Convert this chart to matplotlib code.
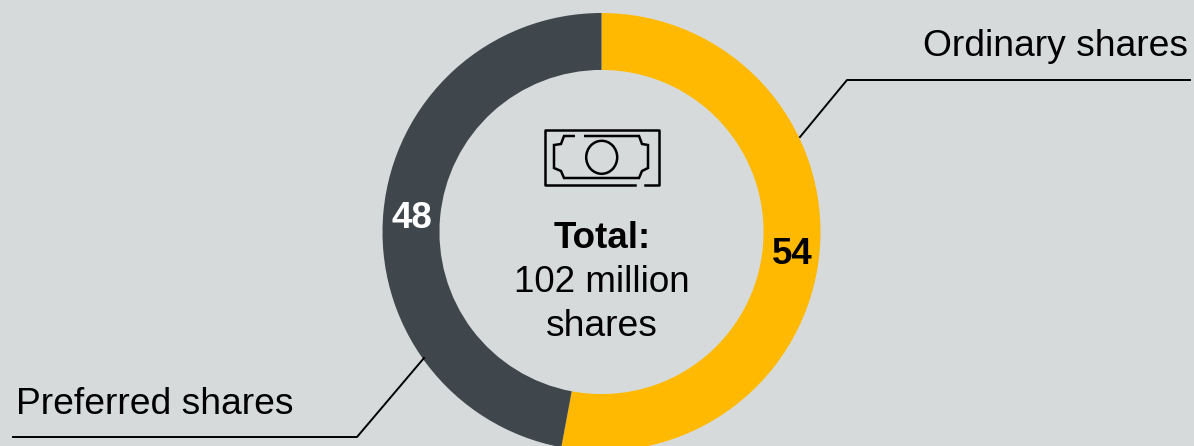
from matplotlib import pyplot as plt
from matplotlib.patches import Ellipse, PathPatch
from matplotlib.path import Path

labels = ['Ordinary shares', 'Preferred shares']
values = [54, 48]
colors = ['#FFB900', '#3F474C']
bg = '#D6DADB'
W, H = 1194, 446
FS = 26.8
FS_C = 26.5

plt.rcParams['font.family'] = ['Liberation Sans', 'DejaVu Sans']

fig = plt.figure(figsize=(W / 100, H / 100), dpi=100, facecolor=bg)
ax = fig.add_axes([0, 0, 1, 1])
ax.set_xlim(0, W)
ax.set_ylim(H, 0)
ax.axis('off')

# pie lives in its own axes so the wedges come from the values
cx, cy, r = 601.5, 232, 219
ax_pie = fig.add_axes([(cx - r) / W, 1 - (cy + r) / H, 2 * r / W, 2 * r / H])
ax_pie.pie(values, colors=colors, startangle=90, counterclock=False,
           radius=1, wedgeprops=dict(width=0.26, lw=0), frame=False)
ax_pie.set_xlim(-1, 1)
ax_pie.set_ylim(-1, 1)
ax_pie.set_zorder(0)
ax.set_zorder(1)
ax.patch.set_alpha(0)

# leader lines
ax.plot([1190, 847, 800], [80, 80, 137], c='k', lw=1.4)
ax.plot([13, 357, 424], [437, 437, 358], c='k', lw=1.4)
ax.text(923, 47, labels[0], fontsize=FS, va='center', ha='left')
ax.text(16, 405, labels[1], fontsize=FS, va='center', ha='left')

ax.text(792, 255, str(values[0]), fontsize=FS_C, weight='bold', ha='center', va='center', color='k')
ax.text(411.5, 219, str(values[1]), fontsize=FS_C, weight='bold', ha='center', va='center', color='w')

ax.text(602, 238, 'Total:', fontsize=FS_C, weight='bold', ha='center', va='center')
ax.text(601.5, 283, '102 million', fontsize=FS_C, ha='center', va='center')
ax.text(601.5, 327, 'shares', fontsize=FS, ha='center', va='center')

# banknote icon
lw_i = 1.8
ax.plot([635, 545, 545, 659, 659, 645], [185, 185, 130, 130, 185, 185], c='k', lw=lw_i)
note_pts = [(575, 136), (564, 136), (561, 144), (554, 145), (554, 168), (561, 171), (564, 178),
            (639, 178), (642, 171), (648, 168), (648, 145), (642, 144), (639, 136), (584, 136)]
ax.add_patch(PathPatch(Path(note_pts), fill=False, ec='k', lw=lw_i))
ax.add_patch(Ellipse((601.7, 157.3), 31, 33, fill=False, ec='k', lw=lw_i))

fig.savefig('out.png', dpi=100, facecolor=bg)
